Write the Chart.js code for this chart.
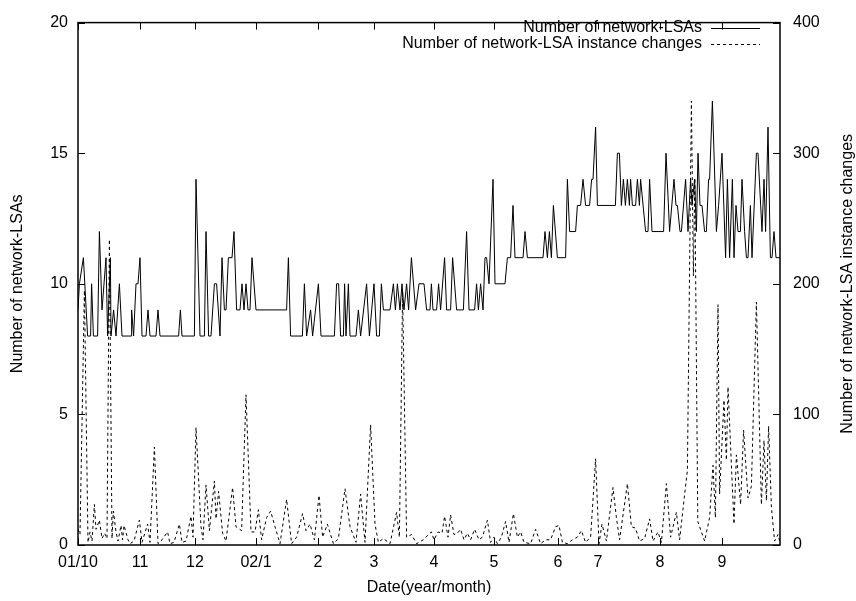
<!DOCTYPE html>
<html>
<head>
<meta charset="utf-8">
<script src="https://cdn.jsdelivr.net/npm/chart.js@4/dist/chart.umd.min.js"></script>
<style>
  html, body { margin: 0; padding: 0; background: #fff; }
  #wrap { width: 856px; height: 601px; }
</style>
</head>
<body>
<div id="wrap"><canvas id="c" width="856" height="601"></canvas></div>
<script>
// Sample index (one step per recorded day) where each month begins, and its label
const monthTicks  = [0, 31, 58.5, 89, 120, 148, 178, 208, 240, 260, 291, 322];
const monthLabels = ['01/10', '11', '12', '02/1', '2', '3', '4', '5', '6', '7', '8', '9'];
const lastSample = 351;

// Number of network-LSAs (left axis)
const lsaDay = [
  0, 0.7, 2.7, 4.8, 6.3, 6.8, 7.7, 9.8, 10.7, 12,
  14, 14.8, 16.2, 16.5, 17.8, 19, 20.7, 22, 26.5, 26.8,
  27.8, 29, 30, 31, 32, 34, 35, 36, 39, 40,
  41, 50.3, 51.2, 52, 58.2, 59, 61, 63.2, 64, 65.3,
  66.5, 68.2, 69.3, 71, 72, 73.2, 74, 75.2, 77, 78,
  79.3, 81, 82, 83, 84, 85, 86, 87, 89, 104.3,
  105.2, 106.3, 112.2, 113.2, 114.3, 116.3, 117.3, 120.2, 121.5, 128.2,
  129.3, 130.3, 131.3, 132.7, 133.3, 134, 135.2, 136, 139, 140.2,
  141.3, 144.3, 145.7, 148, 149.3, 150.7, 151.7, 152.7, 156, 157.7,
  158.7, 159.7, 161, 162, 163, 164.3, 165.3, 166.7, 168.8, 170.5,
  173, 174.3, 176, 176.7, 177.5, 179.3, 180.3, 181.3, 183.3, 184.3,
  186.3, 187.3, 189.3, 192.7, 194.3, 195.5, 198.3, 199.3, 200.2, 201.3,
  202.5, 203.5, 204.3, 205.5, 207.5, 208.5, 213.5, 214.7, 216.3, 217.5,
  218.5, 222.5, 223.5, 224.7, 232.5, 233.5, 234.7, 235.7, 236.7, 237.7,
  239.7, 243.8, 244.7, 245.8, 248.8, 249.7, 251.3, 252.5, 253.8, 255.8,
  256.8, 257.5, 258.8, 259.7, 268.7, 269.7, 270.7, 271.7, 272.7, 273.7,
  274.7, 275.7, 276.3, 277.2, 278.8, 279.7, 280.7, 281.3, 283.8, 285,
  285.8, 287, 292.8, 294, 295.8, 298, 299, 299.7, 301, 301.7,
  303.8, 305, 306.3, 307, 308.3, 309.2, 310, 311, 312, 313.3,
  314.2, 315.3, 315.8, 317.2, 319.2, 320.3, 322, 323.8, 324.7, 325.8,
  327.2, 328, 329, 330, 331.2, 332, 333.3, 334.2, 335, 336.2,
  337, 339.2, 340, 342, 343, 343.8, 345, 346.2, 347, 348,
  349, 351
];
const lsaCount = [
  9, 10, 11, 8, 8, 10, 8, 8, 12, 9,
  11, 8, 11, 8, 9, 8, 10, 8, 8, 9,
  8, 10, 10, 11, 8, 8, 9, 8, 8, 9,
  8, 8, 9, 8, 8, 14, 8, 8, 12, 8,
  8, 10, 10, 8, 11, 9, 9, 11, 11, 12,
  9, 9, 10, 9, 10, 9, 9, 11, 9, 9,
  11, 8, 8, 10, 8, 9, 8, 10, 8, 8,
  10, 10, 8, 8, 10, 8, 10, 8, 8, 9,
  8, 10, 8, 10, 8, 8, 10, 9, 9, 10,
  9, 10, 9, 10, 9, 10, 9, 11, 9, 10,
  10, 9, 9, 10, 9, 9, 10, 9, 11, 9,
  9, 11, 9, 9, 12, 9, 9, 10, 9, 10,
  9, 11, 11, 10, 14, 10, 10, 11, 11, 13,
  11, 11, 12, 11, 11, 12, 11, 12, 11, 13,
  11, 11, 14, 12, 12, 13, 13, 14, 13, 13,
  14, 14, 16, 13, 13, 15, 15, 13, 14, 13,
  14, 13, 14, 13, 13, 14, 13, 14, 12, 12,
  14, 12, 12, 15, 12, 14, 13, 13, 12, 12,
  14, 12, 14, 13, 14, 12, 15, 13, 13, 12,
  12, 14, 14, 17, 12, 13, 15, 11, 14, 11,
  14, 11, 13, 12, 12, 14, 12, 11, 11, 13,
  11, 15, 15, 12, 14, 12, 16, 11, 11, 12,
  11, 11
];

// Number of network-LSA instance changes (right axis)
const chgDay = [
  0, 1, 3.2, 5, 6, 7, 8.2, 9, 10.7, 12,
  13.3, 14.5, 15.7, 17, 17.7, 19, 20, 21.5, 22.3, 23,
  25, 26, 28, 30.7, 32, 34.8, 36, 38.2, 40, 42,
  44.8, 46, 48, 50.7, 52, 54, 56.5, 57.5, 59, 61.5,
  62.5, 64, 65.7, 68.2, 69, 70.3, 72.3, 74, 77.3, 79,
  81.8, 84, 86.5, 88.5, 90.2, 91.8, 94.3, 96.3, 98.5, 101,
  104.3, 106.8, 109.3, 112.3, 114, 116, 118.2, 120.5, 122.3, 124.7,
  127.7, 130.2, 133.5, 136, 139, 141.3, 143.5, 146.3, 148.5, 150.2,
  152.7, 156, 159.3, 160.7, 162.3, 164.3, 166.8, 169.3, 172.7, 175.2,
  176.7, 178, 180, 182, 183.3, 185, 186.3, 188, 189.7, 191.3,
  193, 194.7, 196.3, 198.3, 200.5, 202.2, 204.7, 206.3, 208, 209.7,
  211.7, 213.8, 215.5, 217.7, 219.7, 221.3, 223, 226.3, 228.8, 231.3,
  233.8, 236.3, 238.8, 240.5, 242.2, 244.7, 247.2, 249.7, 251.7, 253.8,
  256.3, 258.8, 260.5, 262, 264.2, 267.5, 269.2, 270.8, 274.7, 276.7,
  278.7, 280.8, 283.3, 285.8, 287.5, 290, 291.7, 294.2, 296.3, 299.2,
  300.8, 303.7, 304.7, 306.7, 307.7, 308.4, 309.9, 313.3, 315.8, 317.5,
  318.7, 320, 320.8, 323, 324.2, 325, 328, 329.2, 331.3, 332.8,
  335, 336.7, 339.2, 341.7, 343, 344.2, 345.3, 346.7, 348.3, 350,
  351
];
const chgCount = [
  12, 8, 195, 2, 10, 3, 31, 12, 19, 5,
  9, 5, 234, 5, 26, 10, 3, 15, 4, 15,
  4, 1, 3, 19, 2, 16, 2, 75, 1, 4,
  10, 1, 2, 16, 2, 3, 22, 6, 90, 14,
  4, 46, 11, 49, 20, 41, 9, 3, 44, 14,
  11, 115, 10, 10, 27, 4, 21, 26, 14, 1,
  35, 1, 6, 24, 11, 16, 4, 38, 6, 16,
  1, 5, 43, 14, 2, 39, 2, 92, 16, 2,
  5, 1, 25, 6, 194, 6, 8, 1, 4, 8,
  10, 4, 10, 9, 22, 6, 23, 8, 9, 12,
  4, 9, 4, 12, 4, 6, 19, 2, 6, 1,
  6, 18, 2, 24, 6, 10, 2, 1, 12, 1,
  4, 4, 14, 15, 2, 1, 4, 6, 11, 2,
  6, 66, 1, 16, 3, 44, 21, 4, 47, 14,
  13, 3, 5, 20, 3, 10, 2, 47, 6, 25,
  4, 44, 57, 340, 206, 281, 18, 3, 21, 61,
  21, 184, 39, 111, 65, 121, 16, 69, 31, 88,
  36, 45, 186, 31, 80, 34, 91, 29, 3, 8,
  2
];

const FONT = 'Liberation Sans, Arial, Helvetica, sans-serif';
const FONT_SIZE = 16;

const toPoints = (xs, ys) => xs.map((x, i) => ({ x: x, y: ys[i] }));

// Frame, inward ticks, legend and axis titles in gnuplot style
const framePlugin = {
  id: 'frame',
  afterDraw(chart) {
    const { ctx, chartArea: a, scales } = chart;
    const tick = 7;
    ctx.save();
    ctx.strokeStyle = '#000';
    ctx.lineWidth = 1;
    ctx.beginPath();
    scales.x.ticks.forEach(t => {
      const px = Math.round(scales.x.getPixelForValue(t.value)) + 0.5;
      ctx.moveTo(px, a.bottom); ctx.lineTo(px, a.bottom - tick);
      ctx.moveTo(px, a.top); ctx.lineTo(px, a.top + tick);
    });
    scales.y.ticks.forEach(t => {
      const py = Math.round(scales.y.getPixelForValue(t.value)) + 0.5;
      ctx.moveTo(a.left, py); ctx.lineTo(a.left + tick, py);
    });
    scales.y2.ticks.forEach(t => {
      const py = Math.round(scales.y2.getPixelForValue(t.value)) + 0.5;
      ctx.moveTo(a.right, py); ctx.lineTo(a.right - tick, py);
    });
    ctx.stroke();

    ctx.lineWidth = 1.5;
    ctx.strokeRect(a.left, a.top, a.right - a.left, a.bottom - a.top);

    // legend
    ctx.font = FONT_SIZE + 'px ' + FONT;
    ctx.fillStyle = '#000';
    ctx.textAlign = 'right';
    ctx.textBaseline = 'middle';
    const rows = [
      { y: 28, ds: chart.data.datasets[0] },
      { y: 44, ds: chart.data.datasets[1] }
    ];
    rows.forEach(r => {
      ctx.fillText(r.ds.label, 702, r.y);
      ctx.save();
      ctx.lineWidth = 1;
      ctx.setLineDash(r.ds.borderDash || []);
      ctx.beginPath();
      ctx.moveTo(711, r.y + 0.5);
      ctx.lineTo(760, r.y + 0.5);
      ctx.stroke();
      ctx.restore();
    });

    // axis titles
    ctx.textAlign = 'center';
    ctx.fillText('Date(year/month)', (a.left + a.right) / 2, 588);
    const midY = (a.top + a.bottom) / 2;
    ctx.save();
    ctx.translate(18, midY);
    ctx.rotate(-Math.PI / 2);
    ctx.fillText('Number of network-LSAs', 0, 0);
    ctx.restore();
    ctx.save();
    ctx.translate(848, midY);
    ctx.rotate(-Math.PI / 2);
    ctx.fillText('Number of network-LSA instance changes', 0, 0);
    ctx.restore();
    ctx.restore();
  }
};

Chart.defaults.font.family = FONT;
Chart.defaults.font.size = FONT_SIZE;
Chart.defaults.color = '#000';

new Chart(document.getElementById('c'), {
  type: 'line',
  data: {
    datasets: [
      {
        label: 'Number of network-LSAs',
        data: toPoints(lsaDay, lsaCount),
        yAxisID: 'y',
        borderColor: '#000',
        borderWidth: 1,
        pointRadius: 0,
        tension: 0,
        fill: false
      },
      {
        label: 'Number of network-LSA instance changes',
        data: toPoints(chgDay, chgCount),
        yAxisID: 'y2',
        borderColor: '#000',
        borderWidth: 1,
        borderDash: [3, 3],
        pointRadius: 0,
        tension: 0,
        fill: false
      }
    ]
  },
  options: {
    responsive: false,
    animation: false,
    devicePixelRatio: 1,
    layout: { padding: { top: 12, left: 0, right: 0, bottom: 0 } },
    plugins: { legend: { display: false }, tooltip: { enabled: false } },
    scales: {
      x: {
        type: 'linear',
        position: 'bottom',
        min: 0,
        max: lastSample,
        afterBuildTicks: s => { s.ticks = monthTicks.map(v => ({ value: v })); },
        afterFit: s => { s.height = 56; },
        ticks: {
          autoSkip: false,
          maxRotation: 0,
          minRotation: 0,
          padding: 8,
          callback: (v, i) => monthLabels[i]
        },
        grid: { display: false, drawTicks: false },
        border: { display: false }
      },
      y: {
        position: 'left',
        min: 0,
        max: 20,
        afterFit: s => { s.width = 78; },
        ticks: { stepSize: 5, padding: 10 },
        grid: { display: false, drawTicks: false },
        border: { display: false }
      },
      y2: {
        position: 'right',
        min: 0,
        max: 400,
        afterFit: s => { s.width = 76; },
        ticks: { stepSize: 100, padding: 13 },
        grid: { display: false, drawTicks: false },
        border: { display: false }
      }
    }
  },
  plugins: [framePlugin]
});
</script>
</body>
</html>
